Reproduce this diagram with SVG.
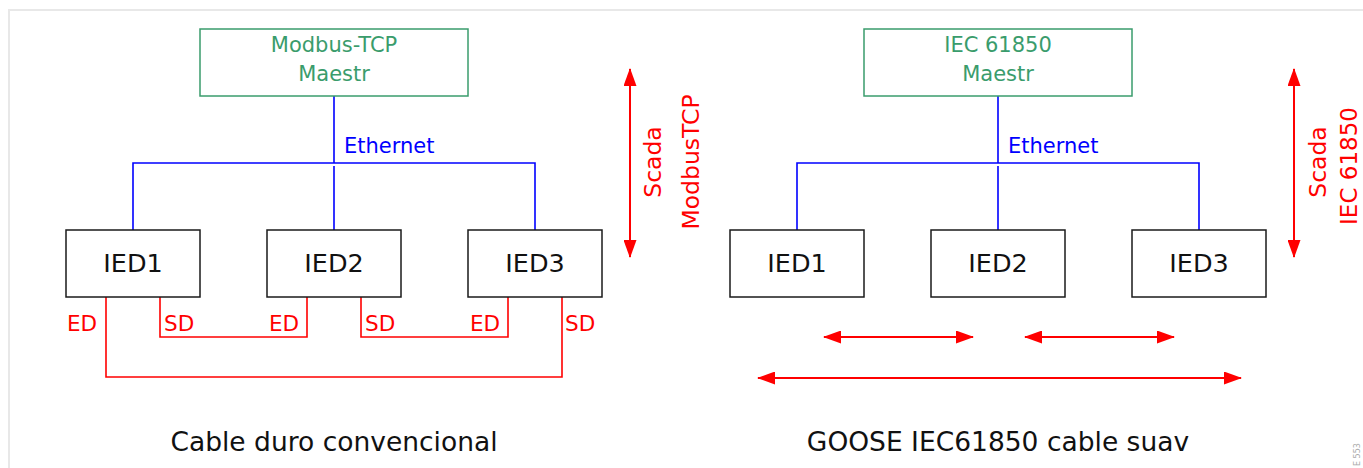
<svg xmlns="http://www.w3.org/2000/svg" width="1363" height="468" viewBox="0 0 1363 468">
<style>
text{font-family:"DejaVu Sans","Liberation Sans",sans-serif}
.master{fill:#fff;stroke:#3a9c6c;stroke-width:1.5}
.mt{fill:#3a9c6c;font-size:21px;text-anchor:middle}
.ied{fill:#fff;stroke:#1a1a1a;stroke-width:1.5}
.it{fill:#111;font-size:25.5px;text-anchor:middle}
.eth{stroke:#0000ff;stroke-width:1.6;fill:none}
.et{fill:#0000ff;font-size:21px}
.wire{stroke:#ff0000;stroke-width:1.6;fill:none}
.lt{fill:#ff0000;font-size:21.5px}
.arr{stroke:#ff0000;stroke-width:2;fill:none;marker-start:url(#ah);marker-end:url(#ah)}
.st{fill:#ff0000;font-size:23.5px;text-anchor:middle}
.title{fill:#111;font-size:26.5px;text-anchor:middle}
</style>
<defs>
<marker id="ah" markerUnits="userSpaceOnUse" markerWidth="18" markerHeight="13" refX="17" refY="6.5" orient="auto-start-reverse" viewBox="0 0 18 13">
<path d="M0,0 L18,6.5 L0,13 z" fill="#ff0000"/>
</marker>
</defs>
<rect width="1363" height="468" fill="#fff"/>
<path d="M9,468 V10 H1363" fill="none" stroke="#e8e8e8" stroke-width="2"/>

<g id="connectors">
<path class="eth" d="M334,96 V163 M133,230 V163 H535 V230 M334,166 V230"/>
<path class="eth" d="M998,96 V163 M797,230 V163 H1199 V230 M998,166 V230"/>
<path class="wire" d="M106,297 V377 H562 V297"/>
<path class="wire" d="M160,297 V337 H307 V297"/>
<path class="wire" d="M361,297 V337 H508 V297"/>
<line class="arr" x1="630" y1="69" x2="630" y2="257"/>
<line class="arr" x1="1294" y1="69" x2="1294" y2="257"/>
<line class="arr" x1="824" y1="337" x2="973" y2="337"/>
<line class="arr" x1="1025" y1="337" x2="1174" y2="337"/>
<line class="arr" x1="758" y1="378" x2="1241" y2="378"/>
</g>

<g id="master-left">
<rect class="master" x="200" y="29" width="268" height="67"/>
<text class="mt" x="334" y="52">Modbus-TCP</text>
<text class="mt" x="334" y="81">Maestr</text>
</g>
<g id="master-right">
<rect class="master" x="864" y="29" width="268" height="67"/>
<text class="mt" x="998" y="52">IEC 61850</text>
<text class="mt" x="998" y="81">Maestr</text>
</g>

<text class="et" x="344" y="153">Ethernet</text>
<text class="et" x="1008" y="153">Ethernet</text>

<g id="ied1-left"><rect class="ied" x="66" y="230" width="134" height="67"/><text class="it" x="133" y="272">IED1</text></g>
<g id="ied2-left"><rect class="ied" x="267" y="230" width="134" height="67"/><text class="it" x="334" y="272">IED2</text></g>
<g id="ied3-left"><rect class="ied" x="468" y="230" width="134" height="67"/><text class="it" x="535" y="272">IED3</text></g>
<g id="ied1-right"><rect class="ied" x="730" y="230" width="134" height="67"/><text class="it" x="797" y="272">IED1</text></g>
<g id="ied2-right"><rect class="ied" x="931" y="230" width="134" height="67"/><text class="it" x="998" y="272">IED2</text></g>
<g id="ied3-right"><rect class="ied" x="1132" y="230" width="134" height="67"/><text class="it" x="1199" y="272">IED3</text></g>

<g id="wire-labels">
<text class="lt" x="67" y="331">ED</text>
<text class="lt" x="164" y="331">SD</text>
<text class="lt" x="269" y="331">ED</text>
<text class="lt" x="365" y="331">SD</text>
<text class="lt" x="470" y="331">ED</text>
<text class="lt" x="565" y="331">SD</text>
</g>

<g id="scada-labels">
<text class="st" transform="translate(661,162) rotate(-90)">Scada</text>
<text class="st" transform="translate(699,162) rotate(-90)">ModbusTCP</text>
<text class="st" transform="translate(1326,162) rotate(-90)">Scada</text>
<text class="st" style="font-size:23px" transform="translate(1357,166) rotate(-90)">IEC 61850</text>
</g>

<text class="title" x="334" y="451">Cable duro convencional</text>
<text class="title" x="998" y="451">GOOSE IEC61850 cable suav</text>
<text transform="translate(1360,466) rotate(-90)" style="font-size:8px;fill:#aaa">E 553</text>
</svg>
